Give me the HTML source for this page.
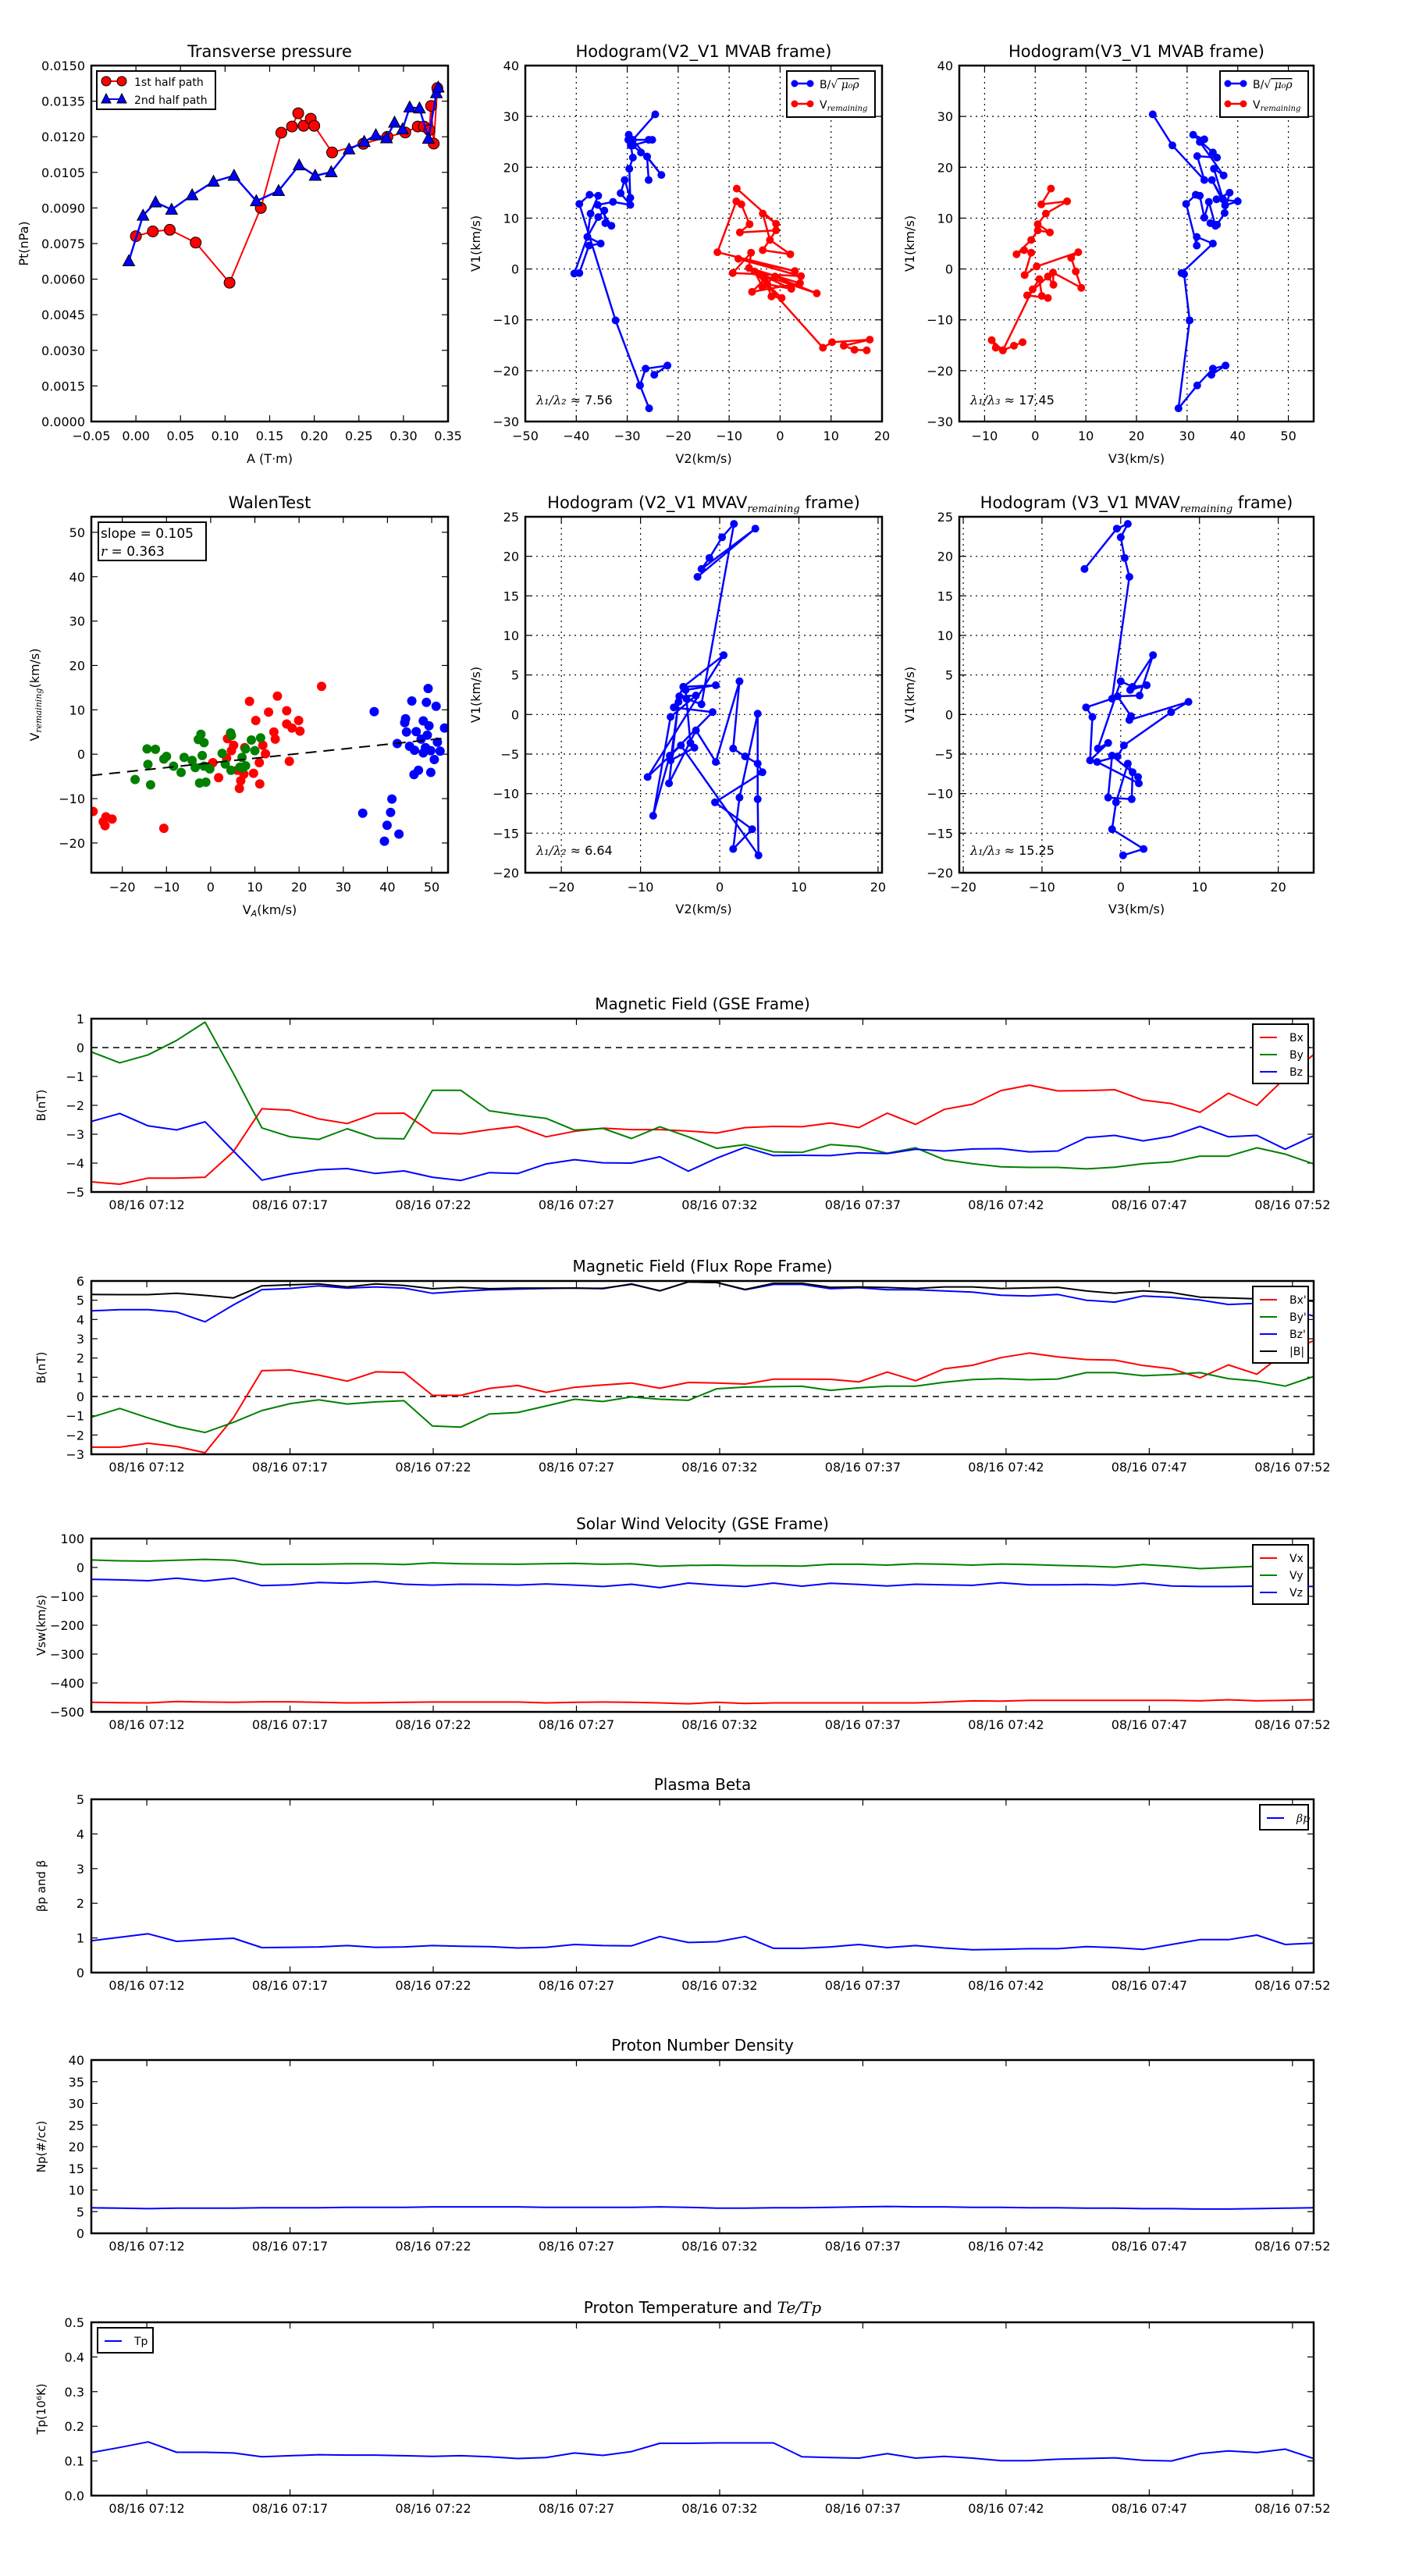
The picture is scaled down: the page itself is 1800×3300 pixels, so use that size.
<!DOCTYPE html>
<html><head><meta charset="utf-8"><title>Flux rope analysis</title>
<style>
html,body{margin:0;padding:0;background:#fff;}
svg{display:block;font-family:"DejaVu Sans","Liberation Sans",sans-serif;}
</style></head>
<body>
<svg id="chart" width="1800" height="3300" viewBox="0 0 1800 3300" xmlns="http://www.w3.org/2000/svg"></svg>
<script>
// ---------- Transverse pressure ----------
const ptAred = [0.000,0.019,0.038,0.067,0.105,0.140,0.163,0.175,0.182,0.188,0.196,0.200,0.220,0.255,0.282,0.302,0.316,0.323,0.329,0.331,0.334,0.338];
const ptPred = [0.00781,0.00801,0.00808,0.00754,0.00585,0.0090,0.01217,0.01243,0.01299,0.01246,0.01276,0.01246,0.01134,0.0117,0.0120,0.01218,0.01243,0.01243,0.01228,0.0133,0.01171,0.01405];
const ptAblue = [-0.008,0.008,0.022,0.040,0.063,0.087,0.110,0.135,0.160,0.183,0.201,0.219,0.239,0.256,0.269,0.281,0.290,0.299,0.307,0.318,0.328,0.337,0.339];
const ptPblue = [0.00676,0.00868,0.00924,0.00893,0.00954,0.01011,0.01036,0.00929,0.00972,0.0108,0.01036,0.01051,0.01147,0.01179,0.01207,0.01194,0.0126,0.01232,0.01324,0.0132,0.01192,0.01384,0.01408];
const ptXticks = [-0.05,0,0.05,0.10,0.15,0.20,0.25,0.30,0.35];
const ptYticks = [0,0.0015,0.003,0.0045,0.006,0.0075,0.009,0.0105,0.012,0.0135,0.015];

// ---------- Hodogram V2-V1 MVAB ----------
const h1BlueX = [-24.7,-22.1,-26.4,-27.5,-25.7,-27.5,-32.3,-39.4,-37.4,-35.7,-37.2,-37.8,-40.4,-39.4,-37.5,-35.2,-37.8,-35.7,-34.5,-34.3,-33.1,-35.8,-32.8,-29.4,-31.3,-30.5,-29.4,-29.6,-28.9,-29.3,-29.7,-29.8,-25.8,-25.1,-28.9,-27.3,-26.1,-25.8,-26.1,-23.3,-28.9,-24.5];
const h1BlueY = [-20.8,-19.0,-19.6,-22.9,-27.4,-22.9,-10.1,12.8,14.6,14.4,10.9,6.3,-0.9,-0.8,4.6,5.0,6.3,10.2,11.5,9.0,8.5,12.6,13.2,12.6,14.9,17.5,14.0,19.7,21.9,24.3,26.4,25.4,25.4,25.4,24.3,22.9,22.1,17.5,22.1,18.5,25.4,30.4];
const h1RedX = [-8.5,-0.8,-3.4,-2.0,2.0,-3.4,-0.8,-7.9,-6.0,-7.6,-8.6,-12.3,2.9,-8.2,4.1,-9.3,-5.7,-6.1,3.9,-5.5,-3.0,-1.7,0.3,-2.5,2.2,-4.0,7.2,-1.0,-3.5,-5.0,8.4,10.2,17.6,12.5,14.6,17.0];
const h1RedY = [15.8,8.9,10.9,5.7,2.9,3.7,7.6,7.2,8.8,12.7,13.3,3.3,-0.4,2.0,-1.4,-0.8,3.2,0.2,-2.8,-4.5,-2.0,-5.4,-5.7,-3.0,-3.9,-1.0,-4.8,-1.5,-3.5,-0.5,-15.5,-14.4,-13.9,-15.1,-15.9,-16.0];

// ---------- Hodogram V3-V1 MVAB ----------
const h2BlueX = [23.2,27.1,33.4,32.0,35.9,35.1,31.2,33.4,32.5,37.2,35.3,37.1,34.9,37.5,40.0,35.8,38.4,37.4,35.9,34.6,35.6,34.3,33.4,32.5,31.7,29.8,31.9,31.9,35.1,28.9,29.4,30.5,28.3,32.0,35.1,37.6,34.8];
const h2BlueY = [30.4,24.3,17.5,22.2,21.9,22.9,26.4,25.5,25.0,18.4,19.7,13.7,17.5,12.5,13.3,13.7,15.0,11.0,8.7,9.0,8.5,13.2,10.1,14.4,14.6,12.8,4.6,6.3,5.0,-0.8,-1.0,-10.1,-27.4,-22.9,-19.6,-19.0,-20.8];
const h2RedX = [3.1,1.2,6.3,2.1,0.5,2.9,0.5,-0.8,-3.7,-2.2,-0.8,-2.1,0.3,8.5,7.1,8.0,9.1,3.5,3.6,2.5,-1.6,2.5,1.3,0.8,-0.5,-6.4,-8.6,-7.8,-6.4,-4.2,-2.5];
const h2RedY = [15.8,12.7,13.3,10.9,8.8,7.2,7.6,5.7,2.9,3.7,3.2,-1.2,0.5,3.3,2.2,-0.5,-3.7,-0.7,-3.1,-1.5,-5.2,-5.7,-5.3,-2.0,-4.0,-16.0,-14.0,-15.5,-16.0,-15.1,-14.4];

// ---------- Walen test ----------
const walRedX = [-26.6,-23.7,-24.3,-23.9,-22.3,-10.6,25.1,15.1,8.8,13.1,17.2,19.9,10.2,17.2,18.4,20.2,14.3,14.6,3.8,5.2,11.8,7.7,12.4,4.7,0.5,3.6,11.0,17.8,1.8,9.7,7.5,6.8,11.1,6.5,6.0];
const walRedY = [-12.9,-14.1,-15.2,-16.1,-14.6,-16.7,15.3,13.1,11.9,9.5,9.8,7.6,7.6,6.8,5.9,5.2,5.0,3.4,3.5,2.0,2.0,1.5,0.1,0.8,-1.9,-0.9,-1.9,-1.6,-5.3,-4.3,-4.5,-6.0,-6.7,-7.7,-3.6];
const walGreenX = [-14.4,-12.5,-17.1,-14.2,-13.6,-10.6,-10.0,-8.4,-6.7,-6.0,-4.2,-3.5,-2.8,-2.2,-1.5,-1.9,-2.5,-1.1,-1.5,-0.2,2.6,3.3,4.5,4.7,4.6,7.1,7.3,7.9,9.2,10.0,11.3,6.6,7.9];
const walGreenY = [1.2,1.1,-5.7,-2.3,-6.9,-1.1,-0.5,-2.7,-4.1,-0.7,-1.4,-3.0,3.3,4.5,2.6,-0.3,-6.5,-6.3,-2.7,-3.3,0.2,-2.2,4.8,4.2,-3.6,-0.7,-3.1,1.2,3.2,0.8,3.7,-2.9,-2.6];
const walBlueX = [37.0,45.5,49.2,48.8,51.0,43.9,44.1,48.1,49.4,46.5,44.3,52.9,49.0,47.6,51.3,42.2,45.0,46.1,48.1,49.8,51.9,48.6,50.6,46.0,47.0,49.8,34.4,40.7,41.0,39.9,39.3,42.6];
const walBlueY = [9.6,12.0,14.8,11.7,10.8,7.1,8.0,7.5,6.4,5.1,5.0,5.9,4.3,3.4,2.7,2.4,1.8,0.9,0.3,0.8,0.7,1.5,-1.2,-4.6,-3.6,-4.1,-13.3,-13.1,-10.1,-16.0,-19.6,-18.0];
const walSlope = 0.105;
const walIntercept = -1.96;

// ---------- Hodogram V2-V1 MVAV ----------
const h3X = [-2.8,4.5,-2.3,-1.3,0.3,1.8,-2.3,-4.2,-5.1,-3.0,-6.2,-8.4,-6.3,-0.9,-5.8,-4.6,-0.5,-4.3,-3.7,-3.2,-6.2,-5.2,-6.4,-3.0,-0.5,2.5,1.7,3.2,4.8,5.4,-0.6,4.1,1.7,2.5,4.8,4.8,4.9,-4.9,-9.1,0.5,-4.6];
const h3Y = [17.4,23.5,18.4,19.8,22.4,24.1,1.3,2.0,2.3,2.4,-0.3,-12.8,-5.2,0.3,0.9,3.5,3.7,3.1,-3.6,-4.2,-5.8,1.6,-8.7,-2.0,-6.0,4.2,-4.3,-5.3,-6.2,-7.3,-11.1,-14.5,-17.0,-10.5,0.1,-10.7,-17.8,-3.9,-7.9,7.5,3.5];

// ---------- Hodogram V3-V1 MVAV ----------
const h4X = [-4.6,-0.5,0.9,0.0,0.5,1.1,-1.1,-4.4,-3.6,-3.9,-1.6,-2.9,0.0,1.5,3.3,1.2,4.1,2.4,-0.4,1.3,1.1,8.6,6.4,0.4,-0.4,-3.0,2.3,2.2,-1.1,-1.6,1.4,1.5,0.9,-0.6,-1.1,2.9,0.3];
const h4Y = [18.4,23.5,24.1,22.4,19.8,17.4,2.0,0.9,-0.3,-5.8,-3.6,-4.3,4.2,3.5,3.7,3.1,7.5,2.4,2.3,-0.2,-0.7,1.6,0.3,-3.9,-5.3,-6.0,-8.7,-7.9,-5.2,-10.5,-10.7,-7.3,-6.2,-11.1,-14.5,-17.0,-17.8];

// ---------- Time series (1-min samples 07:10 - 07:53) ----------
const tsLabels = ['08/16 07:12','08/16 07:17','08/16 07:22','08/16 07:27','08/16 07:32','08/16 07:37','08/16 07:42','08/16 07:47','08/16 07:52'];
const tsTickMin = [2,7,12,17,22,27,32,37,42];
const gseBx = [-4.65,-4.73,-4.52,-4.52,-4.49,-3.6,-2.12,-2.17,-2.47,-2.63,-2.28,-2.27,-2.95,-2.99,-2.84,-2.73,-3.09,-2.9,-2.79,-2.84,-2.84,-2.89,-2.96,-2.77,-2.73,-2.74,-2.61,-2.77,-2.27,-2.66,-2.14,-1.96,-1.49,-1.3,-1.5,-1.49,-1.46,-1.82,-1.94,-2.24,-1.58,-2.0,-1.05,-0.24];
const gseBy = [-0.15,-0.53,-0.25,0.25,0.88,-0.9,-2.78,-3.09,-3.18,-2.81,-3.14,-3.16,-1.48,-1.48,-2.19,-2.33,-2.45,-2.86,-2.8,-3.15,-2.74,-3.09,-3.49,-3.36,-3.61,-3.63,-3.36,-3.43,-3.66,-3.47,-3.88,-4.02,-4.13,-4.15,-4.15,-4.2,-4.14,-4.02,-3.96,-3.76,-3.76,-3.47,-3.69,-4.03];
const gseBz = [-2.56,-2.28,-2.71,-2.85,-2.57,-3.58,-4.59,-4.38,-4.23,-4.19,-4.36,-4.27,-4.49,-4.6,-4.33,-4.36,-4.03,-3.88,-3.99,-4.0,-3.78,-4.28,-3.83,-3.45,-3.74,-3.73,-3.74,-3.64,-3.67,-3.52,-3.58,-3.51,-3.5,-3.61,-3.58,-3.12,-3.04,-3.23,-3.07,-2.73,-3.09,-3.04,-3.52,-3.06];
const frBx = [-2.63,-2.63,-2.43,-2.6,-2.92,-1.1,1.34,1.38,1.11,0.8,1.28,1.25,0.06,0.06,0.42,0.57,0.22,0.48,0.6,0.7,0.43,0.73,0.7,0.65,0.9,0.9,0.89,0.76,1.27,0.82,1.44,1.62,2.02,2.26,2.06,1.92,1.89,1.61,1.44,0.97,1.64,1.16,2.29,2.9];
const frBy = [-1.08,-0.62,-1.11,-1.56,-1.87,-1.34,-0.73,-0.37,-0.17,-0.39,-0.28,-0.22,-1.53,-1.59,-0.91,-0.83,-0.49,-0.14,-0.26,-0.02,-0.14,-0.2,0.4,0.49,0.51,0.53,0.32,0.45,0.54,0.54,0.74,0.88,0.93,0.87,0.91,1.24,1.24,1.08,1.14,1.24,0.93,0.8,0.54,1.04];
const frBz = [4.45,4.51,4.51,4.39,3.88,4.76,5.55,5.61,5.75,5.63,5.69,5.63,5.36,5.46,5.54,5.58,5.61,5.63,5.6,5.85,5.49,5.95,5.92,5.54,5.82,5.82,5.6,5.65,5.54,5.54,5.48,5.42,5.26,5.22,5.3,5.0,4.9,5.22,5.15,5.01,4.78,4.84,4.6,4.17];
const frBt = [5.3,5.29,5.29,5.36,5.25,5.12,5.75,5.8,5.85,5.69,5.85,5.77,5.6,5.67,5.6,5.63,5.63,5.63,5.62,5.83,5.49,5.95,5.92,5.56,5.88,5.88,5.67,5.69,5.66,5.61,5.69,5.69,5.61,5.64,5.67,5.48,5.36,5.49,5.4,5.16,5.12,5.07,5.04,4.95];
const swVx = [-467,-468,-469,-464,-466,-467,-465,-465,-467,-469,-468,-467,-466,-466,-466,-466,-469,-467,-466,-467,-469,-472,-467,-471,-469,-469,-469,-469,-469,-469,-466,-462,-463,-460,-460,-460,-460,-460,-460,-462,-458,-462,-460,-458];
const swVy = [26,23,22,25,28,25,10,11,11,13,13,10,16,13,12,11,13,14,11,13,4,7,8,6,6,5,11,11,8,13,11,8,12,10,7,5,1,10,4,-4,0,4,-2,-2];
const swVz = [-41,-43,-46,-37,-47,-37,-63,-60,-52,-55,-49,-58,-61,-58,-59,-61,-57,-61,-66,-58,-70,-54,-61,-66,-54,-65,-55,-59,-64,-58,-60,-62,-53,-60,-60,-59,-61,-55,-64,-66,-66,-65,-65,-66];
const betaP = [0.92,1.02,1.12,0.9,0.95,0.99,0.72,0.73,0.74,0.78,0.73,0.74,0.78,0.76,0.75,0.71,0.73,0.81,0.78,0.77,1.04,0.87,0.89,1.04,0.7,0.7,0.74,0.81,0.72,0.78,0.71,0.66,0.67,0.69,0.69,0.75,0.72,0.67,0.81,0.95,0.95,1.08,0.81,0.85];
const densNp = [5.9,5.8,5.7,5.8,5.8,5.8,5.9,5.9,5.9,6.0,6.0,6.0,6.1,6.1,6.1,6.1,6.0,6.0,6.0,6.0,6.1,6.0,5.8,5.8,5.9,5.9,6.0,6.1,6.2,6.1,6.1,6.0,6.0,5.9,5.9,5.8,5.8,5.7,5.7,5.6,5.6,5.7,5.8,5.9];
const tempTp = [0.124,0.139,0.155,0.125,0.125,0.123,0.112,0.115,0.118,0.117,0.117,0.115,0.113,0.115,0.112,0.107,0.110,0.123,0.116,0.127,0.151,0.151,0.152,0.152,0.152,0.112,0.110,0.108,0.121,0.108,0.113,0.108,0.101,0.101,0.105,0.107,0.109,0.102,0.100,0.121,0.129,0.124,0.134,0.107];

const NS = 'http://www.w3.org/2000/svg';
const svg = document.getElementById('chart');
function mk(tag, name, parent, attrs) {
  const e = document.createElementNS(NS, tag);
  
  
  for (const k in attrs) e.setAttribute(k, attrs[k]);
  (parent || svg).appendChild(e);
  return e;
}
function txt(name, parent, x, y, s, size, anchor, extra) {
  const t = mk('text', name, parent, Object.assign({x: x, y: y, 'font-size': size, 'text-anchor': anchor || 'middle', fill: '#000'}, extra || {}));
  t.textContent = s;
  return t;
}
function fmt(v, d) { const s = Math.abs(v).toFixed(d); return (v < 0 ? '\u2212' : '') + s; }

function frame(g, L, T, W, H) {
  mk('rect', 'plot-frame', g, {x: L, y: T, width: W, height: H, fill: 'none', stroke: '#000', 'stroke-width': 2.5});
}
function scaleX(L, W, a, b) { return v => L + (v - a) / (b - a) * W; }
function scaleY(T, H, a, b) { return v => T + H - (v - a) / (b - a) * H; }

function xyAxes(g, L, T, W, H, xs, ys, xt, yt, xd, yd, grid) {
  xt.forEach(v => {
    const x = xs(v);
    if (grid && x > L + 2 && x < L + W - 2) mk('line', 'x-grid-line', g, {x1: x, x2: x, y1: T, y2: T + H, stroke: '#000', 'stroke-width': 1.2, 'stroke-dasharray': '2,5'});
    mk('line', 'x-tick', g, {x1: x, x2: x, y1: T + H, y2: T + H - 8, stroke: '#000', 'stroke-width': 1.2});
    mk('line', 'x-tick-top', g, {x1: x, x2: x, y1: T, y2: T + 8, stroke: '#000', 'stroke-width': 1.2});
    txt('x-tick-label', g, x, T + H + 24, fmt(v, xd), 16);
  });
  yt.forEach(v => {
    const y = ys(v);
    if (grid && y > T + 2 && y < T + H - 2) mk('line', 'y-grid-line', g, {x1: L, x2: L + W, y1: y, y2: y, stroke: '#000', 'stroke-width': 1.2, 'stroke-dasharray': '2,5'});
    mk('line', 'y-tick', g, {x1: L, x2: L + 8, y1: y, y2: y, stroke: '#000', 'stroke-width': 1.2});
    mk('line', 'y-tick-right', g, {x1: L + W, x2: L + W - 8, y1: y, y2: y, stroke: '#000', 'stroke-width': 1.2});
    txt('y-tick-label', g, L - 8, y + 6, fmt(v, yd), 16, 'end');
  });
}
function polyline(g, name, xs, ys, X, Y, color, w) {
  const pts = X.map((v, i) => xs(v).toFixed(1) + ',' + ys(Y[i]).toFixed(1)).join(' ');
  return mk('polyline', name, g, {points: pts, fill: 'none', stroke: color, 'stroke-width': w || 2, 'stroke-linejoin': 'round'});
}
function dots(g, name, xs, ys, X, Y, color, r, stroke) {
  X.forEach((v, i) => mk('circle', name, g, {cx: xs(v).toFixed(1), cy: ys(Y[i]).toFixed(1), r: r, fill: color, stroke: stroke || 'none', 'stroke-width': 1}));
}
function clipFor(id, L, T, W, H) {
  const cp = mk('clipPath', 'clip-region', svg, {id: id});
  mk('rect', 'clip-rect', cp, {x: L, y: T, width: W, height: H});
}
function rotLabel(g, name, x, y, s, size) {
  return txt(name, g, x, y, s, size, 'middle', {transform: 'rotate(-90 ' + x + ' ' + y + ')'});
}

// ===== Panel 1: Transverse pressure =====
(function () {
  const g = mk('g', 'transverse-pressure-chart', svg, {});
  const L = 117, T = 84, W = 457, H = 456;
  const xs = scaleX(L, W, -0.05, 0.35), ys = scaleY(T, H, 0, 0.015);
  txt('chart-title', g, L + W / 2, 73, 'Transverse pressure', 21);
  xyAxes(g, L, T, W, H, xs, ys, ptXticks, ptYticks, 2, 4, false);
  polyline(g, 'first-half-path-line', xs, ys, ptAred, ptPred, 'red', 2);
  dots(g, 'first-half-path-point', xs, ys, ptAred, ptPred, 'red', 7, '#000');
  polyline(g, 'second-half-path-line', xs, ys, ptAblue, ptPblue, 'blue', 2.5);
  ptAblue.forEach((v, i) => {
    const x = xs(v), y = ys(ptPblue[i]);
    mk('polygon', 'second-half-path-point', g, {points: (x) + ',' + (y - 8) + ' ' + (x - 7.5) + ',' + (y + 6) + ' ' + (x + 7.5) + ',' + (y + 6), fill: 'blue', stroke: '#000', 'stroke-width': 1});
  });
  frame(g, L, T, W, H);
  const lg = mk('g', 'legend', g, {});
  mk('rect', 'legend-box', lg, {x: 124, y: 91, width: 152, height: 49, fill: '#fff', stroke: '#000', 'stroke-width': 2});
  mk('line', 'legend-line-first', lg, {x1: 136, x2: 156, y1: 104, y2: 104, stroke: 'red', 'stroke-width': 2});
  mk('circle', 'legend-marker-first', lg, {cx: 136, cy: 104, r: 6, fill: 'red', stroke: '#000'});
  mk('circle', 'legend-marker-first', lg, {cx: 156, cy: 104, r: 6, fill: 'red', stroke: '#000'});
  txt('legend-label-first', lg, 172, 110, '1st half path', 14, 'start');
  mk('line', 'legend-line-second', lg, {x1: 136, x2: 156, y1: 127, y2: 127, stroke: 'blue', 'stroke-width': 2});
  mk('polygon', 'legend-marker-second', lg, {points: '136,120 130,132 142,132', fill: 'blue', stroke: '#000'});
  mk('polygon', 'legend-marker-second', lg, {points: '156,120 150,132 162,132', fill: 'blue', stroke: '#000'});
  txt('legend-label-second', lg, 172, 133, '2nd half path', 14, 'start');
  txt('x-axis-title', g, L + W / 2, 593, 'A (T\u00b7m)', 16);
  rotLabel(g, 'y-axis-title', 36, T + H / 2, 'Pt(nPa)', 16);
})();

// ===== Hodogram builder =====
function hodo(opts) {
  const g = mk('g', opts.name, svg, {});
  const {L, T, W, H} = opts;
  const xs = scaleX(L, W, opts.xr[0], opts.xr[1]), ys = scaleY(T, H, opts.yr[0], opts.yr[1]);
  const cid = opts.name + '-clip';
  clipFor(cid, L, T, W, H);
  const t = txt('chart-title', g, L + W / 2, T - 11, '', 21);
  t.textContent = opts.title[0];
  if (opts.title.length > 1) {
    const s1 = mk('tspan', 'title-subscript', t, {'font-size': 13, 'font-style': 'italic', 'font-family': 'DejaVu Serif, serif', dy: 5});
    s1.textContent = opts.title[1];
    const s2 = mk('tspan', 'title-rest', t, {dy: -5});
    s2.textContent = opts.title[2];
  }
  xyAxes(g, L, T, W, H, xs, ys, opts.xt, opts.yt, 0, 0, true);
  const data = mk('g', 'series-group', g, {'clip-path': 'url(#' + cid + ')'});
  opts.series.forEach(s => {
    polyline(data, s.name + '-line', xs, ys, s.x, s.y, s.color, 2.5);
    dots(data, s.name + '-point', xs, ys, s.x, s.y, s.color, 5);
  });
  frame(g, L, T, W, H);
  if (opts.legend) {
    const lg = mk('g', 'legend', g, {});
    const lx = opts.legend;
    mk('rect', 'legend-box', lg, {x: lx, y: 91, width: 113, height: 59, fill: '#fff', stroke: '#000', 'stroke-width': 2});
    mk('line', 'legend-line-b', lg, {x1: lx + 10, x2: lx + 30, y1: 107, y2: 107, stroke: 'blue', 'stroke-width': 2.5});
    mk('circle', 'legend-marker-b', lg, {cx: lx + 10, cy: 107, r: 4.5, fill: 'blue'});
    mk('circle', 'legend-marker-b', lg, {cx: lx + 30, cy: 107, r: 4.5, fill: 'blue'});
    const tb = txt('legend-label-b', lg, lx + 42, 113, 'B/\u221a', 14, 'start');
    const tbs = mk('tspan', 'legend-label-b-math', tb, {'font-style': 'italic', 'font-family': 'DejaVu Serif, serif', 'text-decoration': 'overline'});
    tbs.textContent = ' \u03bc\u2080\u03c1';
    mk('line', 'legend-line-v', lg, {x1: lx + 10, x2: lx + 30, y1: 133, y2: 133, stroke: 'red', 'stroke-width': 2.5});
    mk('circle', 'legend-marker-v', lg, {cx: lx + 10, cy: 133, r: 4.5, fill: 'red'});
    mk('circle', 'legend-marker-v', lg, {cx: lx + 30, cy: 133, r: 4.5, fill: 'red'});
    const tv = txt('legend-label-v', lg, lx + 42, 139, 'V', 14, 'start');
    const tvs = mk('tspan', 'legend-label-v-sub', tv, {'font-size': 10, 'font-style': 'italic', 'font-family': 'DejaVu Serif, serif', dy: 3});
    tvs.textContent = 'remaining';
  }
  const lt = txt('eigen-ratio-label', g, L + 14, opts.lamY, '', 16, 'start');
  const m1 = mk('tspan', 'eigen-ratio-math', lt, {'font-style': 'italic', 'font-family': 'DejaVu Serif, serif'});
  m1.textContent = opts.lam[0];
  const m2 = mk('tspan', 'eigen-ratio-value', lt, {});
  m2.textContent = opts.lam[1];
  txt('x-axis-title', g, L + W / 2, opts.xlabY, opts.xlab, 16);
  rotLabel(g, 'y-axis-title', L - 58, T + H / 2, 'V1(km/s)', 16);
}
hodo({name: 'hodogram-v2-v1-mvab', L: 673, T: 84, W: 457, H: 456, xr: [-50, 20], yr: [-30, 40],
  xt: [-50, -40, -30, -20, -10, 0, 10, 20], yt: [-30, -20, -10, 0, 10, 20, 30, 40],
  title: ['Hodogram(V2_V1 MVAB frame)'], xlab: 'V2(km/s)', xlabY: 593, legend: 1008,
  lam: ['\u03bb\u2081/\u03bb\u2082 \u2248 ', '7.56'], lamY: 518,
  series: [{name: 'b-alfven', x: h1BlueX, y: h1BlueY, color: 'blue'}, {name: 'v-remaining', x: h1RedX, y: h1RedY, color: 'red'}]});
hodo({name: 'hodogram-v3-v1-mvab', L: 1229, T: 84, W: 454, H: 456, xr: [-15, 55], yr: [-30, 40],
  xt: [-10, 0, 10, 20, 30, 40, 50], yt: [-30, -20, -10, 0, 10, 20, 30, 40],
  title: ['Hodogram(V3_V1 MVAB frame)'], xlab: 'V3(km/s)', xlabY: 593, legend: 1563,
  lam: ['\u03bb\u2081/\u03bb\u2083 \u2248 ', '17.45'], lamY: 518,
  series: [{name: 'b-alfven', x: h2BlueX, y: h2BlueY, color: 'blue'}, {name: 'v-remaining', x: h2RedX, y: h2RedY, color: 'red'}]});
hodo({name: 'hodogram-v2-v1-mvav', L: 673, T: 662, W: 457, H: 456, xr: [-24.55, 20.5], yr: [-20, 25],
  xt: [-20, -10, 0, 10, 20], yt: [-20, -15, -10, -5, 0, 5, 10, 15, 20, 25],
  title: ['Hodogram (V2_V1 MVAV', 'remaining', ' frame)'], xlab: 'V2(km/s)', xlabY: 1170,
  lam: ['\u03bb\u2081/\u03bb\u2082 \u2248 ', '6.64'], lamY: 1095,
  series: [{name: 'b-alfven', x: h3X, y: h3Y, color: 'blue'}]});
hodo({name: 'hodogram-v3-v1-mvav', L: 1229, T: 662, W: 454, H: 456, xr: [-20.5, 24.5], yr: [-20, 25],
  xt: [-20, -10, 0, 10, 20], yt: [-20, -15, -10, -5, 0, 5, 10, 15, 20, 25],
  title: ['Hodogram (V3_V1 MVAV', 'remaining', ' frame)'], xlab: 'V3(km/s)', xlabY: 1170,
  lam: ['\u03bb\u2081/\u03bb\u2083 \u2248 ', '15.25'], lamY: 1095,
  series: [{name: 'b-alfven', x: h4X, y: h4Y, color: 'blue'}]});

// ===== Walen test =====
(function () {
  const g = mk('g', 'walen-test-chart', svg, {});
  const L = 117, T = 662, W = 457, H = 456;
  const xs = scaleX(L, W, -27, 53.7), ys = scaleY(T, H, -26.7, 53.5);
  clipFor('walen-clip', L, T, W, H);
  txt('chart-title', g, L + W / 2, 651, 'WalenTest', 21);
  xyAxes(g, L, T, W, H, xs, ys, [-20, -10, 0, 10, 20, 30, 40, 50], [-20, -10, 0, 10, 20, 30, 40, 50], 0, 0, false);
  const d = mk('g', 'scatter-group', g, {'clip-path': 'url(#walen-clip)'});
  dots(d, 'walen-point-red', xs, ys, walRedX, walRedY, 'red', 6);
  dots(d, 'walen-point-green', xs, ys, walGreenX, walGreenY, 'green', 6);
  dots(d, 'walen-point-blue', xs, ys, walBlueX, walBlueY, 'blue', 6);
  mk('line', 'walen-fit-line', d, {x1: xs(-27), y1: ys(walSlope * -27 + walIntercept), x2: xs(53.7), y2: ys(walSlope * 53.7 + walIntercept), stroke: '#000', 'stroke-width': 2, 'stroke-dasharray': '14,9'});
  frame(g, L, T, W, H);
  mk('rect', 'fit-stats-box', g, {x: 126, y: 669, width: 138, height: 49, fill: '#fff', stroke: '#000', 'stroke-width': 2});
  txt('slope-label', g, 129, 689, 'slope = 0.105', 17, 'start');
  const rt = txt('r-label', g, 129, 712, '', 17, 'start');
  const ri = mk('tspan', 'r-symbol', rt, {'font-style': 'italic', 'font-family': 'DejaVu Serif, serif'});
  ri.textContent = 'r';
  const rv = mk('tspan', 'r-value', rt, {});
  rv.textContent = ' = 0.363';
  const xl = txt('x-axis-title', g, L + W / 2, 1171, 'V', 16);
  const xls = mk('tspan', 'x-axis-title-sub', xl, {'font-size': 11, 'font-style': 'italic', dy: 3});
  xls.textContent = 'A';
  const xlr = mk('tspan', 'x-axis-title-rest', xl, {dy: -3});
  xlr.textContent = '(km/s)';
  const yl = rotLabel(g, 'y-axis-title', 50, T + H / 2, 'V', 16);
  const yls = mk('tspan', 'y-axis-title-sub', yl, {'font-size': 11, 'font-style': 'italic', 'font-family': 'DejaVu Serif, serif', dy: 3});
  yls.textContent = 'remaining';
  const ylr = mk('tspan', 'y-axis-title-rest', yl, {dy: -3});
  ylr.textContent = '(km/s)';
})();

// ===== Time series panels =====
const TL = 117, TW = 1566, TH = 222;
const tMin = 0.063, tMax = 42.74;
const tx = scaleX(TL, TW, tMin, tMax);
const sampleT = gseBx.map((_, i) => tMin + i * (tMax - tMin) / (gseBx.length - 1));
function tpanel(o) {
  const g = mk('g', o.name, svg, {});
  const T = o.top;
  const ys = scaleY(T, TH, o.yr[0], o.yr[1]);
  const cid = o.name + '-clip';
  clipFor(cid, TL, T, TW, TH);
  const tt = txt('chart-title', g, TL + TW / 2, T - 12, o.title, 20);
  if (o.titleMath) {
    const tm = mk('tspan', 'title-math', tt, {'font-style': 'italic', 'font-family': 'DejaVu Serif, serif'});
    tm.textContent = o.titleMath;
  }
  tsTickMin.forEach((m, i) => {
    const x = TL + (m - tMin) / (tMax - tMin) * TW;
    mk('line', 'x-tick', g, {x1: x, x2: x, y1: T + TH, y2: T + TH - 8, stroke: '#000', 'stroke-width': 1.2});
    mk('line', 'x-tick-top', g, {x1: x, x2: x, y1: T, y2: T + 8, stroke: '#000', 'stroke-width': 1.2});
    txt('x-tick-label', g, x, T + TH + 22, tsLabels[i], 16);
  });
  o.yt.forEach(v => {
    const y = ys(v);
    mk('line', 'y-tick', g, {x1: TL, x2: TL + 8, y1: y, y2: y, stroke: '#000', 'stroke-width': 1.2});
    mk('line', 'y-tick-right', g, {x1: TL + TW, x2: TL + TW - 8, y1: y, y2: y, stroke: '#000', 'stroke-width': 1.2});
    txt('y-tick-label', g, TL - 9, y + 6, fmt(v, o.yd || 0), 16, 'end');
  });
  const d = mk('g', 'series-group', g, {'clip-path': 'url(#' + cid + ')'});
  if (o.zero) mk('line', 'zero-line', d, {x1: TL, x2: TL + TW, y1: ys(0), y2: ys(0), stroke: '#000', 'stroke-width': 1.5, 'stroke-dasharray': '8,6'});
  o.series.forEach(s => polyline(d, s.name + '-line', tx, ys, sampleT, s.d, s.c, 2));
  frame(g, TL, T, TW, TH);
  const lg = mk('g', 'legend', g, {});
  const lx = o.lg[0], ly = o.lg[1], lw = o.lg[2];
  const lh = o.series.length * 22 + 10;
  mk('rect', 'legend-box', lg, {x: lx, y: ly, width: lw, height: lh, fill: '#fff', stroke: '#000', 'stroke-width': 2});
  o.series.forEach((s, i) => {
    const yy = ly + 17 + i * 22;
    mk('line', 'legend-swatch-' + s.name, lg, {x1: lx + 9, x2: lx + 31, y1: yy, y2: yy, stroke: s.c, 'stroke-width': 2});
    const lt = txt('legend-label-' + s.name, lg, lx + 47, yy + 5, s.label, 14, 'start');
    if (s.italic) { lt.setAttribute('font-style', 'italic'); lt.setAttribute('font-family', 'DejaVu Serif, serif'); }
  });
  rotLabel(g, 'y-axis-title', 58, T + TH / 2, o.ylab, 15);
}
tpanel({name: 'magnetic-field-gse-chart', top: 1305, title: 'Magnetic Field (GSE Frame)', yr: [-5, 1], yt: [-5, -4, -3, -2, -1, 0, 1], zero: true, ylab: 'B(nT)',
  lg: [1605, 1312, 71], series: [{name: 'bx', d: gseBx, c: 'red', label: 'Bx'}, {name: 'by', d: gseBy, c: 'green', label: 'By'}, {name: 'bz', d: gseBz, c: 'blue', label: 'Bz'}]});
tpanel({name: 'magnetic-field-flux-rope-chart', top: 1641, title: 'Magnetic Field (Flux Rope Frame)', yr: [-3, 6], yt: [-3, -2, -1, 0, 1, 2, 3, 4, 5, 6], zero: true, ylab: 'B(nT)',
  lg: [1605, 1648, 71], series: [{name: 'bx-prime', d: frBx, c: 'red', label: "Bx'"}, {name: 'by-prime', d: frBy, c: 'green', label: "By'"}, {name: 'bz-prime', d: frBz, c: 'blue', label: "Bz'"}, {name: 'b-magnitude', d: frBt, c: '#000', label: '|B|'}]});
tpanel({name: 'solar-wind-velocity-chart', top: 1971, title: 'Solar Wind Velocity (GSE Frame)', yr: [-500, 100], yt: [-500, -400, -300, -200, -100, 0, 100], ylab: 'Vsw(km/s)',
  lg: [1605, 1979, 71], series: [{name: 'vx', d: swVx, c: 'red', label: 'Vx'}, {name: 'vy', d: swVy, c: 'green', label: 'Vy'}, {name: 'vz', d: swVz, c: 'blue', label: 'Vz'}]});
tpanel({name: 'plasma-beta-chart', top: 2305, title: 'Plasma Beta', yr: [0, 5], yt: [0, 1, 2, 3, 4, 5], ylab: '\u03b2p and \u03b2',
  lg: [1614, 2312, 62], series: [{name: 'beta-p', d: betaP, c: 'blue', label: '\u03b2p', italic: true}]});
tpanel({name: 'proton-density-chart', top: 2639, title: 'Proton Number Density', yr: [0, 40], yt: [0, 5, 10, 15, 20, 25, 30, 35, 40], ylab: 'Np(#/cc)',
  lg: [-500, -500, 10], series: [{name: 'np', d: densNp, c: 'blue', label: 'Np'}]});
tpanel({name: 'proton-temperature-chart', top: 2975, title: 'Proton Temperature and ', titleMath: 'Te/Tp', yr: [0, 0.5], yt: [0, 0.1, 0.2, 0.3, 0.4, 0.5], yd: 1, ylab: 'Tp(10\u2076K)',
  lg: [125, 2982, 71], series: [{name: 'tp', d: tempTp, c: 'blue', label: 'Tp'}]});
</script>
</body></html>
